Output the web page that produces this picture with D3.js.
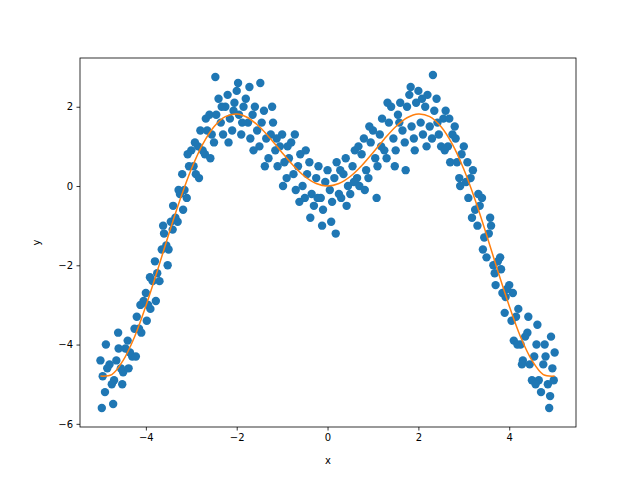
<!DOCTYPE html>
<html><head><meta charset="utf-8">
<script src="https://cdn.jsdelivr.net/npm/d3@7"></script>
<style>body{margin:0;background:#fff}text{font-family:"DejaVu Sans",sans-serif}</style>
</head><body><svg width="640" height="480"></svg>
<script>
// noisy samples
var pointsA = [[-5.0,-4.4],[-4.9,-5.2],[-4.8,-4.5],[-4.7,-4.9],[-4.6,-4.1],[-4.5,-4.7],[-4.4,-3.9],[-4.3,-4.3],[-4.2,-3.3],[-4.1,-3.7],
 [-4.0,-2.7],[-3.9,-3.1],[-3.8,-1.9],[-3.7,-2.4],[-3.6,-1.2],[-3.5,-1.6],[-3.4,-0.5],[-3.3,-0.9],[-3.2,0.3],[-3.1,-0.3],
 [-3.0,0.9],[-2.9,0.3],[-2.8,1.4],[-2.7,0.8],[-2.6,1.8],[-2.5,1.1],[-2.4,2.2],[-2.3,1.3],[-2.2,2.3],[-2.1,1.4],
 [-2.0,2.4],[-1.9,1.3],[-1.8,2.2],[-1.7,1.2],[-1.6,2.0],[-1.5,1.0],[-1.4,1.9],[-1.3,0.7],[-1.2,1.6],[-1.1,0.5],
 [-1.0,1.3],[-0.9,0.2],[-0.8,1.1],[-0.7,-0.1],[-0.6,0.8],[-0.5,-0.3],[-0.4,0.6],[-0.3,-0.5],[-0.2,0.5],[-0.1,-0.6],
 [0.0,0.4],[0.1,-0.4],[0.2,0.6],[0.3,-0.3],[0.4,0.7],[0.5,-0.2],[0.6,0.9],[0.7,0.0],[0.8,1.2],[0.9,0.2],
 [1.0,1.4],[1.1,0.5],[1.2,1.7],[1.3,0.7],[1.4,2.0],[1.5,0.9],[1.6,2.1],[1.7,1.1],[1.8,2.3],[1.9,1.2],
 [2.0,2.4],[2.1,1.3],[2.2,2.3],[2.3,1.2],[2.4,2.2],[2.5,1.0],[2.6,1.9],[2.7,0.6],[2.8,1.5],[2.9,0.2],
 [3.0,1.0],[3.1,-0.3],[3.2,0.4],[3.3,-1.0],[3.4,-0.3],[3.5,-1.8],[3.6,-1.0],[3.7,-2.5],[3.8,-1.8],[3.9,-3.2],
 [4.0,-2.5],[4.1,-3.9],[4.2,-3.1],[4.3,-4.4],[4.4,-3.7],[4.5,-4.9],[4.6,-4.0],[4.7,-5.2],[4.8,-4.3],[4.9,-5.3],[5.0,-4.2]];
var pointsB = [[-4.95,-4.8],[-4.85,-4.6],[-4.75,-5.0],[-4.65,-4.4],[-4.55,-4.6],[-4.45,-4.1],[-4.35,-4.2],[-4.25,-3.6],[-4.15,-3.6],[-4.05,-2.9],
 [-3.95,-3.0],[-3.85,-2.4],[-3.75,-2.2],[-3.65,-1.6],[-3.55,-1.5],[-3.45,-0.9],[-3.35,-0.8],[-3.25,-0.2],[-3.15,-0.1],[-3.05,0.5],
 [-2.95,0.5],[-2.85,1.0],[-2.75,0.9],[-2.65,1.4],[-2.55,1.3],[-2.45,1.8],[-2.35,1.6],[-2.25,2.0],[-2.15,1.7],[-2.05,2.1],
 [-1.95,1.8],[-1.85,2.0],[-1.75,1.6],[-1.65,1.8],[-1.55,1.4],[-1.45,1.6],[-1.35,1.2],[-1.25,1.3],[-1.15,0.9],[-1.05,1.0],
 [-0.95,0.6],[-0.85,0.7],[-0.75,0.3],[-0.65,0.5],[-0.55,0.0],[-0.45,0.3],[-0.35,-0.2],[-0.25,0.2],[-0.15,-0.3],[-0.05,0.1],
 [0.05,-0.1],[0.15,0.2],[0.25,-0.2],[0.35,0.3],[0.45,0.0],[0.55,0.5],[0.65,0.2],[0.75,0.8],[0.85,0.4],[0.95,1.1],
 [1.05,0.7],[1.15,1.3],[1.25,0.9],[1.35,1.6],[1.45,1.2],[1.55,1.8],[1.65,1.4],[1.75,2.0],[1.85,1.5],[1.95,2.1],
 [2.05,1.6],[2.15,2.0],[2.25,1.5],[2.35,1.9],[2.45,1.3],[2.55,1.7],[2.65,1.0],[2.75,1.3],[2.85,0.6],[2.95,0.8],
 [3.05,0.1],[3.15,0.2],[3.25,-0.6],[3.35,-0.5],[3.45,-1.3],[3.55,-1.2],[3.65,-2.0],[3.75,-1.9],[3.85,-2.7],[3.95,-2.6],
 [4.05,-3.4],[4.15,-3.3],[4.25,-4.0],[4.35,-3.8],[4.45,-4.5],[4.55,-4.3],[4.65,-4.9],[4.75,-4.5],[4.85,-5.0],[4.95,-4.6]];
var pointsC = [[-4.97,-5.6],[-4.88,-4.0],[-4.72,-5.5],[-4.61,-3.7],[-4.52,-5.0],[-4.38,-4.6],[-4.22,-4.3],[-4.12,-3.0],[-3.98,-3.4],[-3.91,-2.3],
 [-3.78,-2.9],[-3.62,-1.0],[-3.52,-2.0],[-3.41,-1.1],[-3.28,-0.1],[-3.18,-0.6],[-3.08,0.8],[-2.92,1.1],[-2.83,0.2],[-2.68,1.7],
 [-2.58,0.7],[-2.47,2.75],[-2.33,2.0],[-2.18,1.1],[-2.07,1.9],[-1.97,2.6],[-1.88,1.6],[-1.72,2.5],[-1.63,0.9],[-1.48,2.6],
 [-1.38,0.5],[-1.22,2.0],[-1.12,1.2],[-0.98,0.0],[-0.88,1.0],[-0.72,1.3],[-0.62,-0.4],[-0.48,0.9],[-0.38,-0.8],[-0.22,-0.3],
 [-0.12,-1.0],[0.08,-0.9],[0.18,-1.2],[0.28,0.4],[0.42,-0.5],[0.58,0.1],[0.68,1.0],[0.82,-0.1],[0.92,1.5],[1.08,-0.3],
 [1.18,1.0],[1.32,2.1],[1.48,0.5],[1.58,1.6],[1.72,0.4],[1.83,2.5],[1.92,0.9],[2.08,2.2],[2.18,1.0],[2.32,2.8],
 [2.42,1.6],[2.58,0.9],[2.68,1.7],[2.82,1.2],[2.92,0.0],[3.08,0.6],[3.18,-0.8],[3.32,-0.2],[3.42,-1.6],[3.58,-0.8],
 [3.68,-2.2],[3.82,-2.1],[3.92,-2.8],[4.08,-2.7],[4.18,-4.0],[4.28,-4.5],[4.42,-3.3],[4.58,-5.0],[4.62,-3.5],[4.78,-4.0],
 [4.88,-5.6],[4.92,-3.8],[4.98,-4.9]];
// fitted curve
var curveX = [-5,-4.75,-4.5,-4.25,-4,-3.75,-3.5,-3.25,-3,-2.75,-2.5,-2.25,-2,-1.75,-1.5,-1.25,-1,-0.75,-0.5,-0.25,
 0,0.25,0.5,0.75,1,1.25,1.5,1.75,2,2.25,2.5,2.75,3,3.25,3.5,3.75,4,4.25,4.5,4.75,5];
var curveY = [-4.795,-4.757,-4.399,-3.808,-3.027,-2.150,-1.228,-0.352,0.423,1.051,1.496,1.752,1.819,1.722,1.496,1.186,0.841,0.511,0.240,0.062,
 0,0.062,0.240,0.511,0.841,1.186,1.496,1.722,1.819,1.752,1.496,1.051,0.423,-0.352,-1.228,-2.150,-3.027,-3.808,-4.399,-4.757,-4.795];
var xTicks = [-4,-2,0,2,4];
var yTicks = [-6,-4,-2,0,2];

var svg = d3.select('svg');
var L = 80, R = 576, T = 58, B = 427;
var x = d3.scaleLinear().domain([-5.45,5.47]).range([L,R]);
var y = d3.scaleLinear().domain([-6.08,3.23]).range([B,T]);

svg.append('g').selectAll('circle')
    .data(pointsA.concat(pointsB, pointsC))
    .enter().append('circle')
    .attr('cx', function(d){ return x(d[0]); })
    .attr('cy', function(d){ return y(d[1]); })
    .attr('r', 4.2)
    .style('fill', '#1f77b4');

svg.append('path')
    .datum(d3.zip(curveX, curveY))
    .attr('d', d3.line().x(function(d){ return x(d[0]); }).y(function(d){ return y(d[1]); }).curve(d3.curveCatmullRom))
    .style('fill', 'none').style('stroke', '#ff7f0e').style('stroke-width', 1.5);

var fmt = function(d){ return String(d).replace('-', '\u2212'); };
var gx = svg.append('g').attr('transform', 'translate(0,' + B + ')')
    .call(d3.axisBottom(x).tickValues(xTicks).tickSize(3.5).tickPadding(3.5).tickFormat(fmt));
var gy = svg.append('g').attr('transform', 'translate(' + L + ',0)')
    .call(d3.axisLeft(y).tickValues(yTicks).tickSize(3.5).tickPadding(3.5).tickFormat(fmt));
[gx, gy].forEach(function(g){
    g.select('.domain').remove();
    g.selectAll('text').style('font-size', '10px').style('font-family', 'DejaVu Sans').attr('fill', '#000');
    g.selectAll('line').attr('stroke', '#000').attr('stroke-width', 0.8);
});
svg.append('rect').attr('x', L).attr('y', T).attr('width', R-L).attr('height', B-T)
    .style('fill', 'none').style('stroke', '#000').style('stroke-width', 0.8);
svg.append('text').attr('x', (L+R)/2).attr('y', 464).attr('text-anchor', 'middle').style('font-size', '10px').text('x');
svg.append('text').attr('transform', 'translate(40,' + (T+B)/2 + ') rotate(-90)').attr('text-anchor', 'middle').style('font-size', '10px').text('y');
</script></body></html>
